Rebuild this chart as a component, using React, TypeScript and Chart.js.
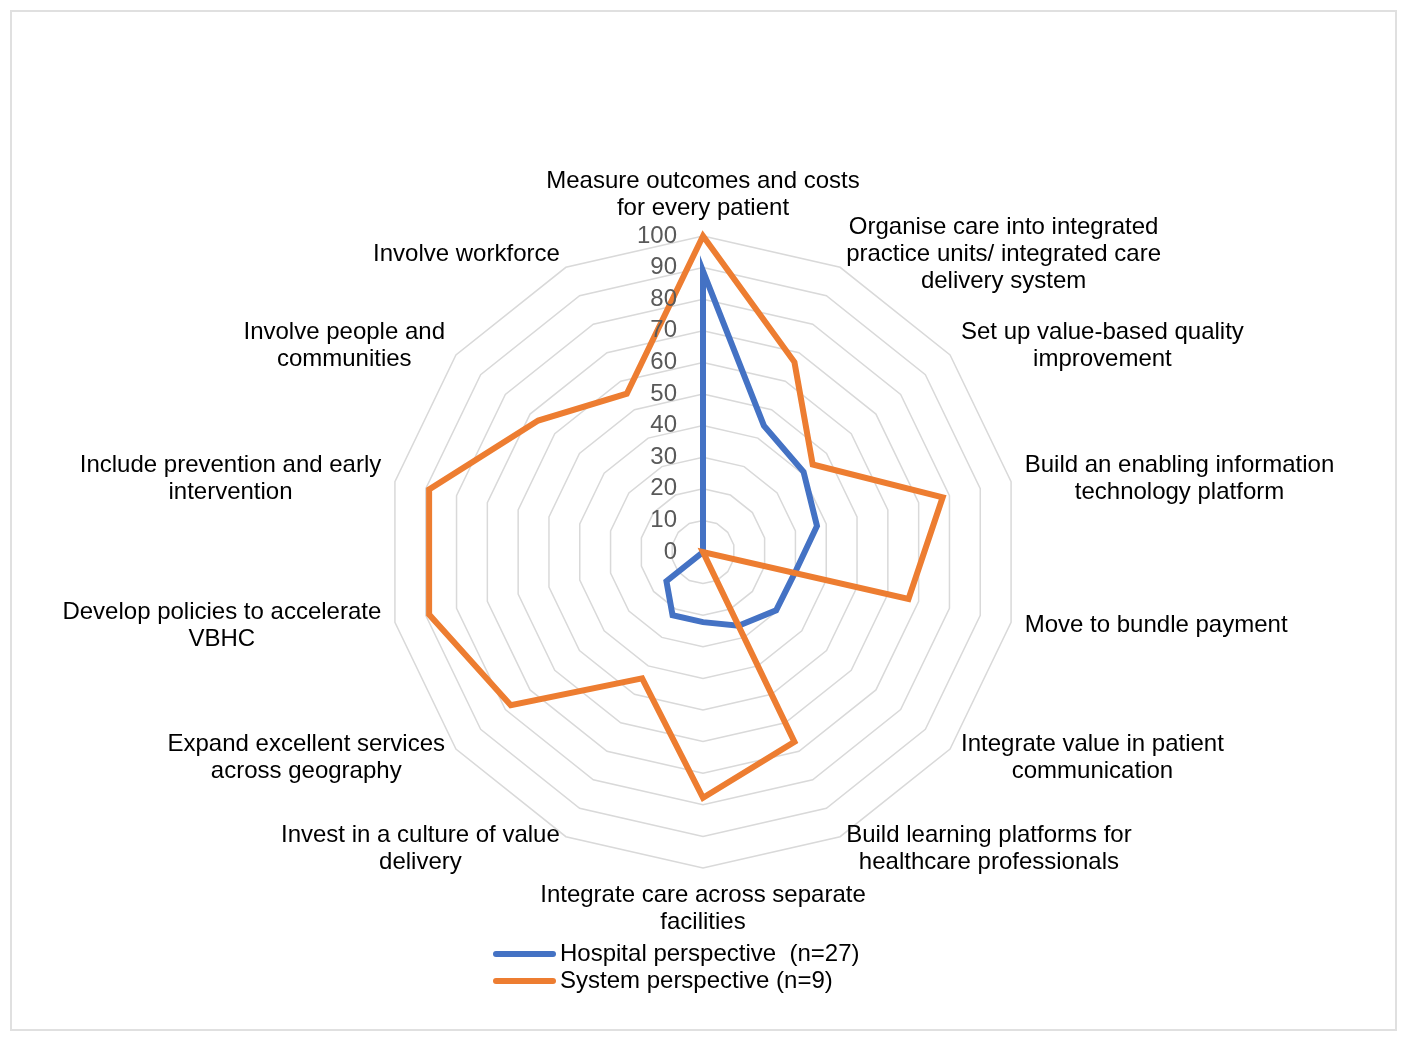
import React, { useEffect, useRef } from "react";
import { Chart, registerables } from "chart.js";

Chart.register(...registerables);

const categories: string[][] = [
  ["Measure outcomes and costs", "for every patient"],
  ["Organise care into integrated", "practice units/ integrated care", "delivery system"],
  ["Set up value-based quality", "improvement"],
  ["Build an enabling information", "technology platform"],
  ["Move to bundle payment"],
  ["Integrate value in patient", "communication"],
  ["Build learning platforms for", "healthcare professionals"],
  ["Integrate care across separate", "facilities"],
  ["Invest in a culture of value", "delivery"],
  ["Expand excellent services", "across geography"],
  ["Develop policies to accelerate", "VBHC"],
  ["Include prevention and early", "intervention"],
  ["Involve people and", "communities"],
  ["Involve workforce"],
];

const hospitalValues: number[] = [88.9, 44.4, 40.7, 37.0, 29.8, 29.6, 25.9, 22.2, 22.2, 14.8, 0, 0, 0, 0];
const systemValues: number[] = [100, 66.7, 44.4, 77.8, 66.7, 0, 66.7, 77.8, 44.4, 77.8, 88.9, 88.9, 66.7, 55.6];

const seriesNames: string[] = ["Hospital perspective  (n=27)", "System perspective (n=9)"];
const seriesColors: string[] = ["#4472C4", "#ED7D31"];
const tickValues: number[] = [0, 10, 20, 30, 40, 50, 60, 70, 80, 90, 100];

const FONT = "'Liberation Sans', Arial, sans-serif";

const overlayPlugin = {
  id: "overlay",
  afterDraw(chart: any) {
    const ctx: CanvasRenderingContext2D = chart.ctx;
    const scale = chart.scales.r;
    const R = scale.drawingArea;
    ctx.save();

    // tick labels
    ctx.font = `24px ${FONT}`;
    ctx.fillStyle = "#595959";
    ctx.textAlign = "right";
    ctx.textBaseline = "middle";
    tickValues.forEach((v) => {
      const d = scale.getDistanceFromCenterForValue(v);
      ctx.fillText(String(v), scale.xCenter - 26, scale.yCenter - d);
    });

    // category labels
    ctx.fillStyle = "#000000";
    ctx.textAlign = "center";
    const lh = 27;
    const n = categories.length;
    categories.forEach((lines, i) => {
      const p = scale.getPointPosition(i, R + 14);
      const w = Math.max(...lines.map((l) => ctx.measureText(l).width));
      const h = lines.length * lh;
      const deg = (i * 360) / n;
      let cx: number;
      let top: number;
      if (deg < 0.01) {
        cx = p.x;
        top = p.y - h;
      } else if (Math.abs(deg - 180) < 0.01) {
        cx = p.x;
        top = p.y;
      } else if (deg < 180) {
        cx = p.x + w / 2;
        top = p.y - h / 2;
      } else {
        cx = p.x - w / 2;
        top = p.y - h / 2;
      }
      lines.forEach((l, k) => ctx.fillText(l, cx, top + lh * k + lh / 2));
    });

    // legend
    ctx.textAlign = "left";
    ctx.lineCap = "round";
    ctx.lineWidth = 6;
    chart.data.datasets.forEach((ds: any, k: number) => {
      const y = scale.yCenter + 402 + k * 27;
      const x0 = scale.xCenter - 207;
      ctx.strokeStyle = ds.borderColor;
      ctx.beginPath();
      ctx.moveTo(x0, y);
      ctx.lineTo(x0 + 57, y);
      ctx.stroke();
      ctx.fillStyle = "#000000";
      ctx.fillText(ds.label, x0 + 64, y);
    });

    ctx.restore();
  },
};

export default function App() {
  const canvasRef = useRef<HTMLCanvasElement | null>(null);

  useEffect(() => {
    if (!canvasRef.current) return;
    const chart = new Chart(canvasRef.current, {
      type: "radar",
      data: {
        labels: categories,
        datasets: [
          {
            label: seriesNames[0],
            data: hospitalValues,
            borderColor: seriesColors[0],
            backgroundColor: seriesColors[0],
            borderWidth: 6,
            pointRadius: 0,
            pointHoverRadius: 0,
            fill: false,
            order: 1,
          },
          {
            label: seriesNames[1],
            data: systemValues,
            borderColor: seriesColors[1],
            backgroundColor: seriesColors[1],
            borderWidth: 6,
            pointRadius: 0,
            pointHoverRadius: 0,
            fill: false,
            order: 0,
          },
        ],
      },
      options: {
        responsive: false,
        animation: false,
        layout: { padding: { left: 311, right: 310, top: 236, bottom: 172 } },
        plugins: {
          legend: { display: false },
          tooltip: { enabled: false },
        },
        scales: {
          r: {
            min: 0,
            max: 100,
            ticks: { stepSize: 10, display: false },
            grid: { color: "#d9d9d9", lineWidth: 1.5, circular: false },
            angleLines: { display: false },
            pointLabels: { display: false },
          },
        },
      },
      plugins: [overlayPlugin],
    });
    return () => chart.destroy();
  }, []);

  return (
    <>
      <div
        style={{
          position: "absolute",
          left: 10,
          top: 10,
          width: 1387,
          height: 1021,
          boxSizing: "border-box",
          border: "2px solid #e0e0e0",
        }}
      />
      <div style={{ position: "absolute", left: 0, top: 0, width: 1405, height: 1040 }}>
        <canvas ref={canvasRef} width={1405} height={1040} style={{ display: "block" }} />
      </div>
    </>
  );
}
